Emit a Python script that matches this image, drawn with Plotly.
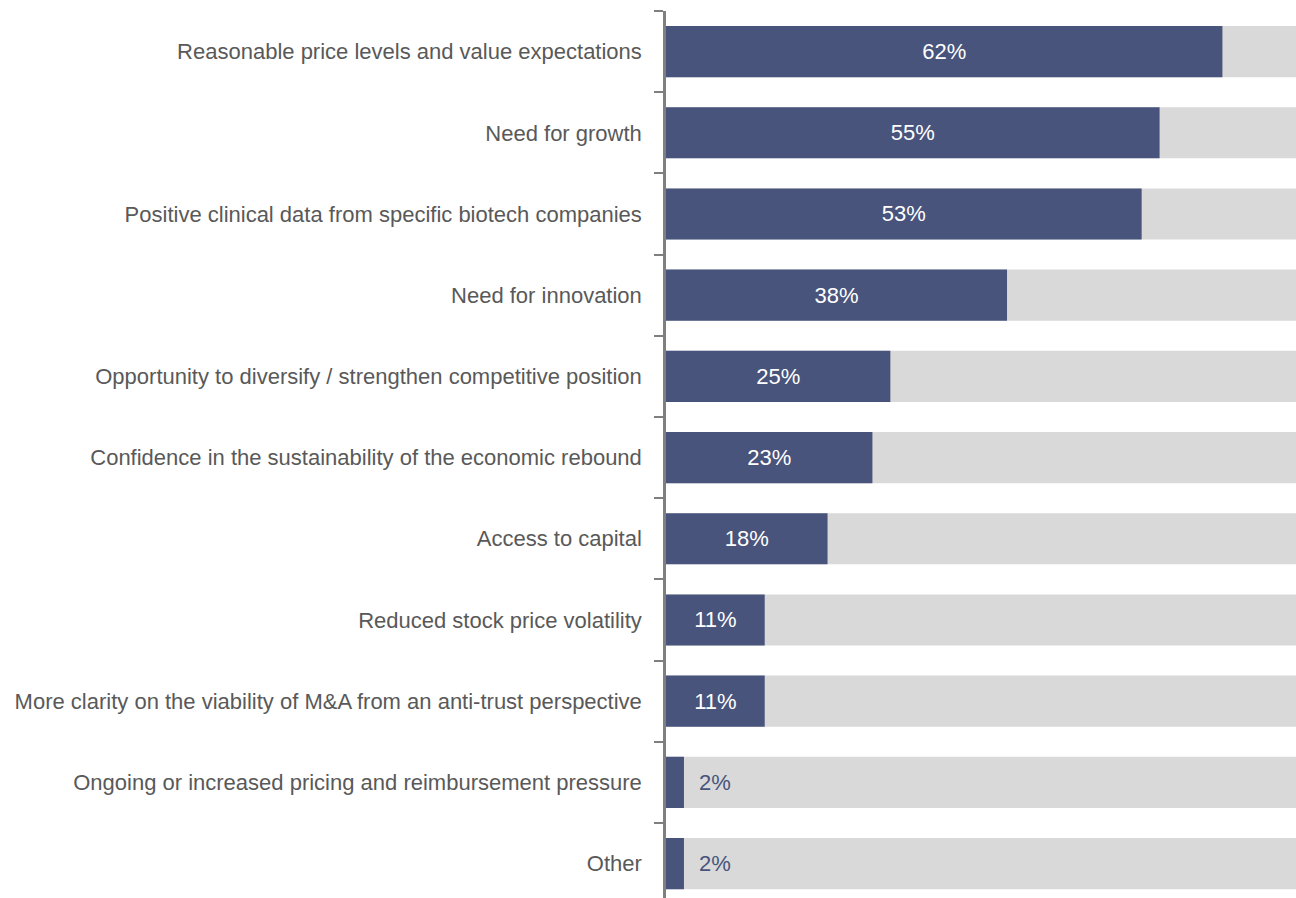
import plotly.graph_objects as go

# Survey responses, listed top to bottom
factors = [
    "Reasonable price levels and value expectations",
    "Need for growth",
    "Positive clinical data from specific biotech companies",
    "Need for innovation",
    "Opportunity to diversify / strengthen competitive position",
    "Confidence in the sustainability of the economic rebound",
    "Access to capital",
    "Reduced stock price volatility",
    "More clarity on the viability of M&A from an anti-trust perspective",
    "Ongoing or increased pricing and reimbursement pressure",
    "Other",
]
shares = [62, 55, 53, 38, 25, 23, 18, 11, 11, 2, 2]
total = [100] * len(factors)

NAVY = "#48547C"
GREY = "#D9D9D9"
TEXT = "#595959"
FONT = "Liberation Sans, Arial, sans-serif"
INSIDE_MIN = 5  # values below this get their label outside the bar

fig = go.Figure()

# Background bars for the full 100%
fig.add_trace(go.Bar(
    y=factors, x=total, orientation="h", width=0.63,
    marker=dict(color=GREY, line=dict(width=0)),
    hoverinfo="skip", showlegend=False,
))

# Share of respondents
fig.add_trace(go.Bar(
    y=factors, x=shares, orientation="h", width=0.63,
    marker=dict(color=NAVY, line=dict(width=0)),
    text=[f"{v}%" if v >= INSIDE_MIN else "" for v in shares],
    textposition="inside", insidetextanchor="middle",
    textfont=dict(family=FONT, size=22, color="white"),
    showlegend=False,
))

# Labels for bars too short to hold their value
for name, v in zip(factors, shares):
    if v < INSIDE_MIN:
        fig.add_annotation(
            x=v, y=name, text=f"{v}%", showarrow=False,
            xanchor="left", xshift=13,
            font=dict(family=FONT, size=22, color=NAVY),
        )

n = len(factors)
fig.update_layout(
    width=1296, height=898,
    margin=dict(l=666, r=0, t=11, b=0),
    barmode="overlay",
    plot_bgcolor="white", paper_bgcolor="white",
    font=dict(family=FONT, size=22, color=TEXT),
    xaxis=dict(range=[0, 70.2], visible=False, fixedrange=True),
    yaxis=dict(
        type="category",
        categoryorder="array", categoryarray=factors,
        range=[n - 0.5 - 0.076, -0.5],
        automargin=False,
        showline=True, linecolor="#7F7F7F", linewidth=2.5,
        ticks="outside", tickson="boundaries", ticklen=9,
        tickwidth=2, tickcolor="#7F7F7F",
        ticklabelstandoff=17,
        showgrid=False, zeroline=False,
        tickfont=dict(family=FONT, size=22, color=TEXT),
    ),
)

fig.write_html("out.html")
